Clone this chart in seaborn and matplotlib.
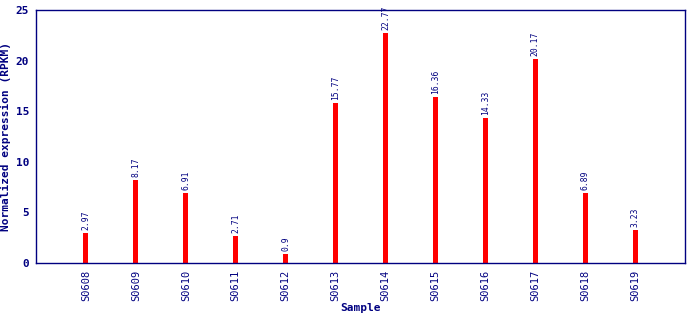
import matplotlib
matplotlib.use("Agg")
import matplotlib.pyplot as plt
import seaborn as sns
import pandas as pd

samples = ["S0608", "S0609", "S0610", "S0611", "S0612", "S0613",
           "S0614", "S0615", "S0616", "S0617", "S0618", "S0619"]
values = [2.97, 8.17, 6.91, 2.71, 0.9, 15.77, 22.77, 16.36, 14.33, 20.17, 6.89, 3.23]
labels = ["2.97", "8.17", "6.91", "2.71", "0.9", "15.77", "22.77", "16.36", "14.33", "20.17", "6.89", "3.23"]
yticks = [0, 5, 10, 15, 20, 25]

sns.set_style("white")
plt.rcParams['font.family'] = ['DejaVu Sans Mono', 'DejaVu Sans']
navy = "#000080"

df = pd.DataFrame({"Sample": samples, "Value": values})
fig = plt.figure(figsize=(6.9, 3.2), dpi=100)
ax = fig.add_axes([36/690, 57/320, 649/690, 253/320])
sns.barplot(data=df, x="Sample", y="Value", color="#ff0000", width=0.1,
            saturation=1, linewidth=0, ax=ax)
for p, lab in zip(ax.patches, labels):
    ax.text(p.get_x() + p.get_width()/2, p.get_height() + 0.3, lab,
            rotation=90, ha="center", va="bottom", fontsize=5.8, color=navy)
ax.set_xlim(-1, 12)
ax.set_ylim(0, 25)
ax.set_yticks(yticks)
ax.set_yticklabels([str(t) for t in yticks], fontsize=8, fontweight="bold", color=navy)
ax.tick_params(axis="x", labelrotation=90, labelsize=7.5, colors=navy, length=3, width=1, pad=2)
ax.tick_params(axis="y", colors=navy, length=3, width=1, labelsize=8, pad=2)
for s in ax.spines.values():
    s.set_color(navy)
    s.set_linewidth(1)
ax.set_xlabel("Sample", fontsize=8, fontweight="bold", color=navy, labelpad=1)
ax.set_ylabel("Normalized expression (RPKM)", fontsize=8, fontweight="bold", color=navy, labelpad=3)
fig.savefig("out.png", dpi=100)
